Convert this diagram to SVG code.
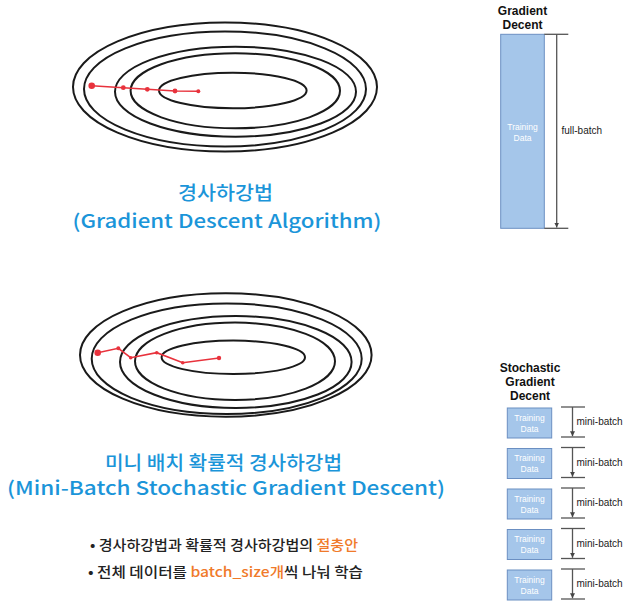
<svg xmlns="http://www.w3.org/2000/svg" width="631" height="606" viewBox="0 0 631 606">
<style>
.contour{fill:none;stroke:#1a1a1a;stroke-width:2}
.path{fill:none;stroke:#e8323c;stroke-width:1.6}
.dot{fill:#e8323c}
.title{font-family:"Noto Sans CJK KR","Noto Sans",sans-serif;font-size:19px;font-weight:500;fill:#1b95d9;text-anchor:middle}
.hdr{font-family:"Liberation Sans",Arial,sans-serif;font-size:12px;font-weight:bold;fill:#111;text-anchor:middle}
.box{fill:#a5c6ea;stroke:#6b8fc2;stroke-width:1}
.boxtxt{font-family:"Liberation Sans",Arial,sans-serif;font-size:8.5px;fill:#ffffff;text-anchor:middle}
.lbl{font-family:"Liberation Sans",Arial,sans-serif;font-size:10px;fill:#222}
.bline{stroke:#555;stroke-width:1.3;fill:none}
.bullet{font-family:"Noto Sans CJK KR","Noto Sans",sans-serif;font-size:14px;fill:#222;font-weight:500}
.hl{fill:#f07a2a}
</style>
<defs>
<marker id="arr" viewBox="0 0 8 8" refX="8" refY="4" markerWidth="5" markerHeight="5" orient="auto" markerUnits="userSpaceOnUse">
<path d="M0,0 L8,4 L0,8 z" fill="#444"/>
</marker>
</defs>
<rect x="0" y="0" width="631" height="606" fill="#ffffff"/>

<g id="gd-contours">
<ellipse class="contour" cx="225" cy="87" rx="152" ry="64.5"/>
<ellipse class="contour" cx="225" cy="89" rx="141" ry="57.5"/>
<ellipse class="contour" cx="235.5" cy="91.7" rx="120.5" ry="45"/>
<ellipse class="contour" cx="235.3" cy="90.8" rx="104.7" ry="37.5"/>
<ellipse class="contour" cx="232.8" cy="90.5" rx="73.8" ry="17.8"/>
</g>
<g id="gd-path">
<polyline class="path" points="91.7,85.7 123.3,87.7 147.3,89.3 175,91 198.3,91.3"/>
<circle class="dot" cx="91.7" cy="85.7" r="3.3"/>
<circle class="dot" cx="123.3" cy="87.7" r="2.4"/>
<circle class="dot" cx="147.3" cy="89.3" r="2.4"/>
<circle class="dot" cx="175" cy="91" r="2.4"/>
<circle class="dot" cx="198.3" cy="91.3" r="2"/>
</g>
<g id="gd-title">
<text class="title" x="225.5" y="200" textLength="95" lengthAdjust="spacingAndGlyphs">경사하강법</text>
<text class="title" x="227" y="228" textLength="309" lengthAdjust="spacingAndGlyphs">(Gradient Descent Algorithm)</text>
</g>

<g id="mb-contours">
<ellipse class="contour" cx="225.8" cy="355" rx="145.8" ry="61.7"/>
<ellipse class="contour" cx="226.7" cy="358.7" rx="135" ry="55.3"/>
<ellipse class="contour" cx="235.8" cy="362" rx="115.8" ry="46"/>
<ellipse class="contour" cx="235" cy="361.3" rx="100" ry="38.7"/>
<ellipse class="contour" cx="233.3" cy="357.3" rx="71.7" ry="16.7"/>
</g>
<g id="mb-path">
<polyline class="path" points="97.7,352.7 118.3,348.3 130.7,357.7 156.7,352.7 182.7,362.7 219,358"/>
<circle class="dot" cx="97.7" cy="352.7" r="3.3"/>
<circle class="dot" cx="118.3" cy="348.3" r="2"/>
<circle class="dot" cx="130.7" cy="357.7" r="1.8"/>
<circle class="dot" cx="156.7" cy="352.7" r="1.8"/>
<circle class="dot" cx="182.7" cy="362.7" r="1.8"/>
<circle class="dot" cx="219" cy="358" r="2.2"/>
</g>
<g id="mb-title">
<text class="title" x="223.5" y="470" textLength="237" lengthAdjust="spacingAndGlyphs">미니 배치 확률적 경사하강법</text>
<text class="title" x="226" y="495" textLength="438" lengthAdjust="spacingAndGlyphs">(Mini-Batch Stochastic Gradient Descent)</text>
</g>
<g id="bullets">
<text class="bullet" x="90" y="550" textLength="268" lengthAdjust="spacingAndGlyphs">• 경사하강법과 확률적 경사하강법의 <tspan class="hl">절충안</tspan></text>
<text class="bullet" x="88" y="577" textLength="275" lengthAdjust="spacingAndGlyphs">• 전체 데이터를 <tspan class="hl">batch_size개</tspan>씩 나눠 학습</text>
</g>

<g id="gd-panel">
<text class="hdr" x="522.5" y="15">Gradient</text>
<text class="hdr" x="522.5" y="29">Decent</text>
<rect class="box" x="500.7" y="34.3" width="43.6" height="194"/>
<text class="boxtxt" x="522.5" y="129.5">Training</text>
<text class="boxtxt" x="522.5" y="140.5">Data</text>
</g>

<g id="sgd-panel">
<text class="hdr" x="530" y="372">Stochastic</text>
<text class="hdr" x="530" y="386">Gradient</text>
<text class="hdr" x="530" y="400">Decent</text>
<g id="sgd-box1"><rect class="box" x="507.3" y="408" width="44.4" height="30"/><text class="boxtxt" x="529.5" y="420.5">Training</text><text class="boxtxt" x="529.5" y="431.5">Data</text></g>
<g id="sgd-box2"><rect class="box" x="507.3" y="448.5" width="44.4" height="30"/><text class="boxtxt" x="529.5" y="461">Training</text><text class="boxtxt" x="529.5" y="472">Data</text></g>
<g id="sgd-box3"><rect class="box" x="507.3" y="489" width="44.4" height="30"/><text class="boxtxt" x="529.5" y="501.5">Training</text><text class="boxtxt" x="529.5" y="512.5">Data</text></g>
<g id="sgd-box4"><rect class="box" x="507.3" y="529.5" width="44.4" height="30"/><text class="boxtxt" x="529.5" y="542">Training</text><text class="boxtxt" x="529.5" y="553">Data</text></g>
<g id="sgd-box5"><rect class="box" x="507.3" y="570" width="44.4" height="30"/><text class="boxtxt" x="529.5" y="582.5">Training</text><text class="boxtxt" x="529.5" y="593.5">Data</text></g>
</g>

<g id="connectors">
<line class="bline" x1="544.3" y1="34.3" x2="568.3" y2="34.3"/>
<line class="bline" x1="544.3" y1="228.3" x2="568.3" y2="228.3"/>
<line class="bline" x1="556.7" y1="34.3" x2="556.7" y2="227.5" marker-end="url(#arr)"/>
<text class="lbl" x="561.5" y="133.5">full-batch</text>

<line class="bline" x1="561" y1="407" x2="585" y2="407"/>
<line class="bline" x1="561" y1="437" x2="585" y2="437"/>
<line class="bline" x1="572.5" y1="407" x2="572.5" y2="436.3" marker-end="url(#arr)"/>
<text class="lbl" x="576.5" y="425">mini-batch</text>

<line class="bline" x1="561" y1="447.5" x2="585" y2="447.5"/>
<line class="bline" x1="561" y1="477.5" x2="585" y2="477.5"/>
<line class="bline" x1="572.5" y1="447.5" x2="572.5" y2="476.8" marker-end="url(#arr)"/>
<text class="lbl" x="576.5" y="465.5">mini-batch</text>

<line class="bline" x1="561" y1="488" x2="585" y2="488"/>
<line class="bline" x1="561" y1="518" x2="585" y2="518"/>
<line class="bline" x1="572.5" y1="488" x2="572.5" y2="517.3" marker-end="url(#arr)"/>
<text class="lbl" x="576.5" y="506">mini-batch</text>

<line class="bline" x1="561" y1="528.5" x2="585" y2="528.5"/>
<line class="bline" x1="561" y1="558.5" x2="585" y2="558.5"/>
<line class="bline" x1="572.5" y1="528.5" x2="572.5" y2="557.8" marker-end="url(#arr)"/>
<text class="lbl" x="576.5" y="546.5">mini-batch</text>

<line class="bline" x1="561" y1="569" x2="585" y2="569"/>
<line class="bline" x1="561" y1="599" x2="585" y2="599"/>
<line class="bline" x1="572.5" y1="569" x2="572.5" y2="598.3" marker-end="url(#arr)"/>
<text class="lbl" x="576.5" y="587">mini-batch</text>
</g>
</svg>
